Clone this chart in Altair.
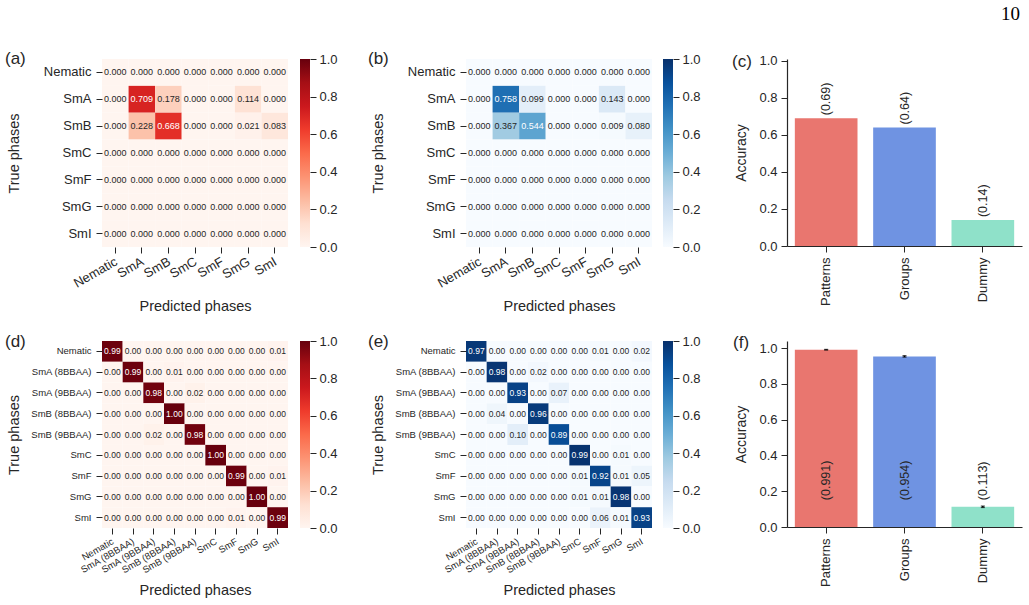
import altair as alt
import pandas as pd

# ---- confusion matrices (rows: true phase, columns: predicted phase) ----
phases7 = ["Nematic", "SmA", "SmB", "SmC", "SmF", "SmG", "SmI"]

conf_a = [
    [0.000, 0.000, 0.000, 0.000, 0.000, 0.000, 0.000],
    [0.000, 0.709, 0.178, 0.000, 0.000, 0.114, 0.000],
    [0.000, 0.228, 0.668, 0.000, 0.000, 0.021, 0.083],
    [0.000, 0.000, 0.000, 0.000, 0.000, 0.000, 0.000],
    [0.000, 0.000, 0.000, 0.000, 0.000, 0.000, 0.000],
    [0.000, 0.000, 0.000, 0.000, 0.000, 0.000, 0.000],
    [0.000, 0.000, 0.000, 0.000, 0.000, 0.000, 0.000],
]

conf_b = [
    [0.000, 0.000, 0.000, 0.000, 0.000, 0.000, 0.000],
    [0.000, 0.758, 0.099, 0.000, 0.000, 0.143, 0.000],
    [0.000, 0.367, 0.544, 0.000, 0.000, 0.009, 0.080],
    [0.000, 0.000, 0.000, 0.000, 0.000, 0.000, 0.000],
    [0.000, 0.000, 0.000, 0.000, 0.000, 0.000, 0.000],
    [0.000, 0.000, 0.000, 0.000, 0.000, 0.000, 0.000],
    [0.000, 0.000, 0.000, 0.000, 0.000, 0.000, 0.000],
]

phases9 = ["Nematic", "SmA (8BBAA)", "SmA (9BBAA)", "SmB (8BBAA)", "SmB (9BBAA)",
           "SmC", "SmF", "SmG", "SmI"]

conf_d = [
    [0.99, 0.00, 0.00, 0.00, 0.00, 0.00, 0.00, 0.00, 0.01],
    [0.00, 0.99, 0.00, 0.01, 0.00, 0.00, 0.00, 0.00, 0.00],
    [0.00, 0.00, 0.98, 0.00, 0.02, 0.00, 0.00, 0.00, 0.00],
    [0.00, 0.00, 0.00, 1.00, 0.00, 0.00, 0.00, 0.00, 0.00],
    [0.00, 0.00, 0.02, 0.00, 0.98, 0.00, 0.00, 0.00, 0.00],
    [0.00, 0.00, 0.00, 0.00, 0.00, 1.00, 0.00, 0.00, 0.00],
    [0.00, 0.00, 0.00, 0.00, 0.00, 0.00, 0.99, 0.00, 0.01],
    [0.00, 0.00, 0.00, 0.00, 0.00, 0.00, 0.00, 1.00, 0.00],
    [0.00, 0.00, 0.00, 0.00, 0.00, 0.00, 0.01, 0.00, 0.99],
]

conf_e = [
    [0.97, 0.00, 0.00, 0.00, 0.00, 0.00, 0.01, 0.00, 0.02],
    [0.00, 0.98, 0.00, 0.02, 0.00, 0.00, 0.00, 0.00, 0.00],
    [0.00, 0.00, 0.93, 0.00, 0.07, 0.00, 0.00, 0.00, 0.00],
    [0.00, 0.04, 0.00, 0.96, 0.00, 0.00, 0.00, 0.00, 0.00],
    [0.00, 0.00, 0.10, 0.00, 0.89, 0.00, 0.00, 0.00, 0.00],
    [0.00, 0.00, 0.00, 0.00, 0.00, 0.99, 0.00, 0.01, 0.00],
    [0.00, 0.00, 0.00, 0.00, 0.00, 0.01, 0.92, 0.01, 0.05],
    [0.00, 0.00, 0.00, 0.00, 0.00, 0.01, 0.01, 0.98, 0.00],
    [0.00, 0.00, 0.00, 0.00, 0.00, 0.00, 0.06, 0.01, 0.93],
]

# ---- accuracy bars ----
models = ["Patterns", "Groups", "Dummy"]
acc_c = [0.69, 0.64, 0.14]
acc_f = [0.991, 0.954, 0.113]
err_f = [0.002, 0.004, 0.004]

# ---- styling ----
REDS = ["#fff5f0", "#fee0d2", "#fcbba1", "#fc9272", "#fb6a4a",
        "#ef3b2c", "#cb181d", "#a50f15", "#67000d"]
BLUES = ["#f7fbff", "#deebf7", "#c6dbef", "#9ecae1", "#6baed6",
         "#4292c6", "#2171b5", "#08519c", "#08306b"]
BAR_COLORS = ["#e9766f", "#6f93e2", "#8fe1c9"]
INK = "#262626"
TICKS01 = [0.0, 0.2, 0.4, 0.6, 0.8, 1.0]


def heat_panel(rows, matrix, palette, fmt, cell_font, tick_font, w, h,
               letter, cbar_x, xtitle_dy):
    df = pd.DataFrame(
        [{"true": t, "pred": p, "value": matrix[i][j]}
         for i, t in enumerate(rows) for j, p in enumerate(rows)]
    )
    stops = [k / (len(palette) - 1) for k in range(len(palette))]
    x = alt.X("pred:N", sort=rows,
              scale=alt.Scale(paddingInner=0, paddingOuter=0),
              axis=alt.Axis(title="Predicted phases", labelAngle=330,
                            labelAlign="right", labelBaseline="top",
                            labelFontSize=tick_font, labelPadding=2,
                            labelOffset=-2, tickSize=6, domain=False,
                            titleX=w / 2, titleY=xtitle_dy,
                            titleBaseline="middle", titleAlign="center"))
    y = alt.Y("true:N", sort=rows,
              scale=alt.Scale(paddingInner=0, paddingOuter=0),
              axis=alt.Axis(title="True phases", labelFontSize=tick_font,
                            labelPadding=5, tickSize=6, domain=False,
                            titleX=-88, titleY=h / 2, titleAngle=270,
                            titleBaseline="middle", titleAlign="center"))
    base = alt.Chart(df).encode(x=x, y=y)
    cells = base.mark_rect().encode(
        color=alt.Color("value:Q",
                        scale=alt.Scale(domain=stops, range=palette,
                                        interpolate="rgb"),
                        legend=None)
    )
    nums = base.mark_text(fontSize=cell_font).encode(
        text=alt.Text("value:Q", format=fmt),
        color=alt.when(alt.datum.value > 0.5)
        .then(alt.value("white"))
        .otherwise(alt.value(INK)),
    )
    heat = alt.layer(cells, nums)

    # colour bar drawn as a gradient strip with its own 0..1 axis
    gradient = {
        "gradient": "linear", "x1": 0, "x2": 0, "y1": 1, "y2": 0,
        "stops": [{"offset": o, "color": c} for o, c in zip(stops, palette)],
    }
    cbar = alt.Chart(pd.DataFrame({"lo": [0.0], "hi": [1.0]})).mark_rect(
        fill=gradient
    ).encode(
        x=alt.value(cbar_x), x2=alt.value(cbar_x + 10),
        y=alt.Y("lo:Q", scale=alt.Scale(domain=[0, 1], nice=False),
                axis=alt.Axis(orient="right", offset=cbar_x + 10 - w,
                              values=TICKS01, format=".1f", domain=False,
                              tickSize=6, labelPadding=3, labelFontSize=13,
                              labelOverlap=False, title=None)),
        y2=alt.Y2("hi:Q"),
    )
    tag = alt.Chart(pd.DataFrame({"tag": [letter[0]]})).mark_text(
        align="left", baseline="middle", fontSize=17, color=INK
    ).encode(text="tag:N", x=alt.value(letter[1]), y=alt.value(letter[2]))
    return alt.layer(heat, cbar, tag).resolve_scale(y="independent").properties(
        width=w, height=h
    )


def bar_panel(values, errors, fmt, ymax, label_at_base, letter, h, extra=None):
    df = pd.DataFrame({"model": models, "acc": values})
    df["label"] = ["(" + format(v, fmt) + ")" for v in values]
    if errors is not None:
        df["lo"] = [v - e for v, e in zip(values, errors)]
        df["hi"] = [v + e for v, e in zip(values, errors)]
    yscale = alt.Scale(domain=[0, ymax], nice=False)
    yaxis = alt.Axis(title="Accuracy", values=TICKS01, format=".1f",
                     domain=True, domainWidth=1.2, domainColor=INK,
                     tickSize=6, labelPadding=4, labelFontSize=13,
                     labelOverlap=False, titleFontSize=14, titleX=-45.5,
                     titleY=h / 2, titleAngle=270, titleBaseline="middle",
                     titleAlign="center")

    def yenc(field):
        return alt.Y(field, type="quantitative", scale=yscale, axis=yaxis)

    x = alt.X("model:N", sort=models,
              scale=alt.Scale(paddingInner=0.2, paddingOuter=0.1),
              axis=alt.Axis(title=None, labelAngle=270, labelAlign="right",
                            labelBaseline="middle", labelFontSize=13,
                            domain=True, domainWidth=1.2, domainColor=INK,
                            tickSize=6, labelPadding=5))
    base = alt.Chart(df).encode(x=x)
    bars = base.mark_bar().encode(
        y=alt.Y("acc", type="quantitative", scale=yscale, axis=yaxis, stack=False),
        color=alt.Color("model:N", scale=alt.Scale(domain=models, range=BAR_COLORS),
                        legend=None),
    )
    layers = [bars]
    if label_at_base is None:
        labels = base.mark_text(angle=270, align="left", baseline="middle",
                                fontSize=12.5, dx=3, color=INK).encode(
            y=yenc("acc"), text="label:N")
    else:
        labels = base.transform_calculate(
            label_y=str(label_at_base)
        ).mark_text(angle=270, align="left", baseline="middle",
                    fontSize=12.5, color=INK).encode(
            y=yenc("label_y"), text="label:N")
    if errors is not None:
        layers.append(base.mark_rule(color="black", strokeWidth=1.5).encode(
            y=yenc("lo"), y2="hi:Q"))
        layers.append(base.mark_tick(color="black", orient="horizontal",
                                     size=4, thickness=1.2).encode(y=yenc("lo")))
        layers.append(base.mark_tick(color="black", orient="horizontal",
                                     size=4, thickness=1.2).encode(y=yenc("hi")))
    layers.append(labels)
    tag = alt.Chart(pd.DataFrame({"tag": [letter[0]]})).mark_text(
        align="left", baseline="middle", fontSize=17, color=INK
    ).encode(text="tag:N", x=alt.value(letter[1]), y=alt.value(letter[2]))
    layers.append(tag)
    if extra is not None:
        layers.append(extra)
    return alt.layer(*layers).properties(width=235, height=h)


def spacer(w):
    return alt.Chart(pd.DataFrame({"s": [0]})).mark_point(opacity=0).encode(
        x=alt.value(0), y=alt.value(0)
    ).properties(width=w, height=10)


page_no = alt.Chart(pd.DataFrame({"page": ["10"]})).mark_text(
    align="left", baseline="alphabetic", font="Liberation Serif", fontSize=19,
    color="black"
).encode(text="page:N", x=alt.value(214), y=alt.value(-39))

panel_a = heat_panel(phases7, conf_a, REDS, ".3f", 9, 13, 186, 188,
                     ("(a)", -97, 0), 198, 59.5)
panel_b = heat_panel(phases7, conf_b, BLUES, ".3f", 9, 13, 186, 188,
                     ("(b)", -98, 0), 197, 59.5)
panel_c = bar_panel(acc_c, None, ".2f", 1.01, None, ("(c)", -55, 2.5), 187,
                    extra=page_no)
panel_d = heat_panel(phases9, conf_d, REDS, ".2f", 8.5, 9.5, 186, 187,
                     ("(d)", -97, 1), 198, 62.5)
panel_e = heat_panel(phases9, conf_e, BLUES, ".2f", 8.5, 9.5, 186, 187,
                     ("(e)", -98, 1), 197, 62.5)
panel_f = bar_panel(acc_f, err_f, ".3f", 1.04, 0.15, ("(f)", -54, 2), 186)

chart = alt.concat(
    panel_a, spacer(178), panel_b, spacer(135), panel_c,
    panel_d, spacer(178), panel_e, spacer(135), panel_f,
    columns=5, spacing={"row": 94, "column": 0}, bounds="flush", align="each",
).properties(
    padding={"left": 5, "top": 5, "right": 5, "bottom": 5}
).configure(
    font="Liberation Sans"
).configure_axis(
    labelColor=INK, titleColor=INK, tickColor=INK, domainColor=INK,
    grid=False, titleFontWeight="normal", titleFontSize=14.5,
).configure_view(strokeWidth=0)

chart.save("out.html", embed_options={"renderer": "svg", "actions": False})
